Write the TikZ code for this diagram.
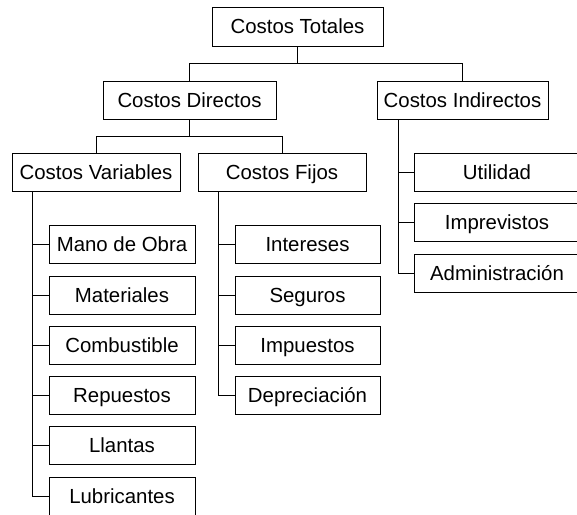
\documentclass[tikz,border=0pt]{standalone}
\usepackage{fontspec}
\setmainfont{Liberation Sans}
\usepackage{tikz}

\tikzset{
	costo/.style={draw, line width=0.9pt, inner sep=0pt, minimum height=38pt,
		text height=16.5pt, text depth=2.5pt,
		font=\fontsize{20.4}{24}\selectfont},
	rama/.style={line width=0.9pt}
}

\begin{document}
\begin{tikzpicture}[x=1pt,y=-1pt]
	% frame of the page
	\useasboundingbox (0,0) rectangle (577,514);
	\clip (0,0) rectangle (577,514);

	% top levels
	\node [costo, minimum width=171pt, minimum height=39pt] (tot) at (297.5,26.5) {Costos Totales};
	\node [costo, minimum width=173pt] (dir) at (189.5,100) {Costos Directos};
	\node [costo, minimum width=171pt] (ind) at (462.5,100) {Costos Indirectos};
	\node [costo, minimum width=168pt] (var) at (96,172) {Costos Variables};
	\node [costo, minimum width=168pt] (fij) at (282,172) {Costos Fijos};

	% costos variables
	\node [costo, minimum width=146pt] (mo) at (122,244) {Mano de Obra};
	\node [costo, minimum width=146pt] (mat) at (122,295) {Materiales};
	\node [costo, minimum width=146pt] (com) at (122,345) {Combustible};
	\node [costo, minimum width=146pt] (rep) at (122,395) {Repuestos};
	\node [costo, minimum width=146pt] (lla) at (122,445) {Llantas};
	\node [costo, minimum width=146pt] (lub) at (122,496) {Lubricantes};

	% costos fijos
	\node [costo, minimum width=145pt] (int) at (307.5,244) {Intereses};
	\node [costo, minimum width=145pt] (seg) at (307.5,295) {Seguros};
	\node [costo, minimum width=145pt] (imp) at (307.5,345) {Impuestos};
	\node [costo, minimum width=145pt] (dep) at (307.5,395) {Depreciación};

	% costos indirectos
	\node [costo, minimum width=166pt] (uti) at (497,172) {Utilidad};
	\node [costo, minimum width=166pt] (imv) at (497,222) {Imprevistos};
	\node [costo, minimum width=166pt] (adm) at (497,273) {Administración};

	% branches between levels
	\draw [rama] (tot.south) -- ++(0,17) coordinate (t1) -| (dir.north);
	\draw [rama] (t1) -| (ind.north);
	\draw [rama] (dir.south) -- ++(0,17) coordinate (d1) -| (var.north);
	\draw [rama] (d1) -| (fij.north);

	% trunks
	\coordinate (vt) at (32,0);
	\coordinate (ft) at (218,0);
	\coordinate (it) at (398,0);
	\draw [rama] (vt |- var.south) |- (lub.west);
	\draw [rama] (vt |- mo.west) -- (mo.west);
	\draw [rama] (vt |- mat.west) -- (mat.west);
	\draw [rama] (vt |- com.west) -- (com.west);
	\draw [rama] (vt |- rep.west) -- (rep.west);
	\draw [rama] (vt |- lla.west) -- (lla.west);

	\draw [rama] (ft |- fij.south) |- (dep.west);
	\draw [rama] (ft |- int.west) -- (int.west);
	\draw [rama] (ft |- seg.west) -- (seg.west);
	\draw [rama] (ft |- imp.west) -- (imp.west);

	\draw [rama] (it |- ind.south) |- (adm.west);
	\draw [rama] (it |- uti.west) -- (uti.west);
	\draw [rama] (it |- imv.west) -- (imv.west);

\end{tikzpicture}
\end{document}
